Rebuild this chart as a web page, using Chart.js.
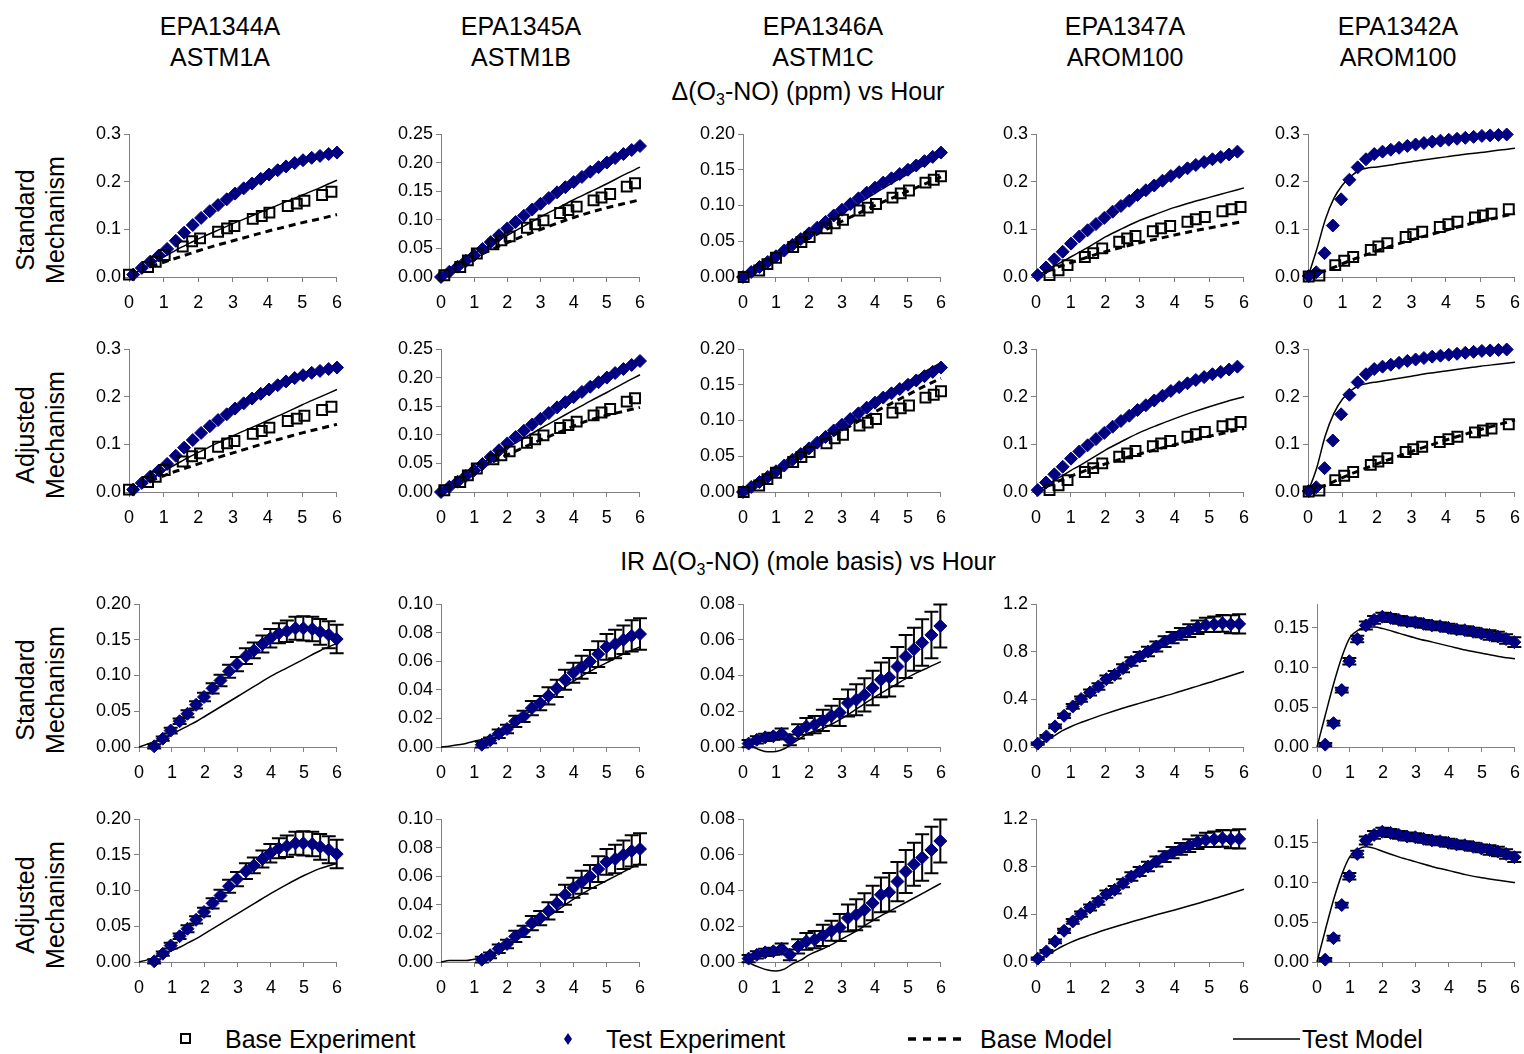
<!DOCTYPE html>
<html lang="en">
<head>
<meta charset="UTF-8" />
<title>Delta(O3-NO) and IR vs Hour</title>
<script src="https://cdn.jsdelivr.net/npm/chart.js"></script>
<style>
  body { margin: 0; background: #fff; }
  #page { position: relative; width: 1524px; height: 1054px; overflow: hidden;
          font-family: "Liberation Sans", Arial, sans-serif; color: #000; }
  .txt { position: absolute; white-space: nowrap; transform: translate(-50%, -50%); font-size: 25px; line-height: 1; }
  .txt sub { font-size: 16px; vertical-align: -5px; line-height: 0; }
  .rowlab { position: absolute; font-size: 25px; line-height: 30px; text-align: center; white-space: nowrap;
            transform: translate(-50%, -50%) rotate(-90deg); }
  .leg { position: absolute; font-size: 25px; line-height: 1; transform: translateY(-50%); white-space: nowrap; }
  canvas { position: absolute; }
  svg { position: absolute; }
</style>
</head>
<body>
<div id="page">
  <div class="txt" style="left:220px;top:26px">EPA1344A</div>
  <div class="txt" style="left:220px;top:57px">ASTM1A</div>
  <div class="txt" style="left:521px;top:26px">EPA1345A</div>
  <div class="txt" style="left:521px;top:57px">ASTM1B</div>
  <div class="txt" style="left:823px;top:26px">EPA1346A</div>
  <div class="txt" style="left:823px;top:57px">ASTM1C</div>
  <div class="txt" style="left:1125px;top:26px">EPA1347A</div>
  <div class="txt" style="left:1125px;top:57px">AROM100</div>
  <div class="txt" style="left:1398px;top:26px">EPA1342A</div>
  <div class="txt" style="left:1398px;top:57px">AROM100</div>

  <div class="txt" style="left:808px;top:91px">&Delta;(O<sub>3</sub>-NO) (ppm) vs Hour</div>
  <div class="txt" style="left:808px;top:561px">IR &Delta;(O<sub>3</sub>-NO) (mole basis) vs Hour</div>

  <div class="rowlab" style="left:40px;top:220px">Standard<br>Mechanism</div>
  <div class="rowlab" style="left:40px;top:435px">Adjusted<br>Mechanism</div>
  <div class="rowlab" style="left:40px;top:690px">Standard<br>Mechanism</div>
  <div class="rowlab" style="left:40px;top:905px">Adjusted<br>Mechanism</div>

  <svg style="left:176px;top:1029px" width="20" height="20"><rect x="5" y="5" width="9" height="9" fill="none" stroke="#000" stroke-width="2"/></svg>
  <div class="leg" style="left:225px;top:1039px">Base Experiment</div>
  <svg style="left:558px;top:1029px" width="20" height="20"><polygon points="10,4 14,10 10,16 6,10" fill="#000080"/></svg>
  <div class="leg" style="left:606px;top:1039px">Test Experiment</div>
  <svg style="left:905px;top:1029px" width="66" height="20"><line x1="3" y1="10" x2="63" y2="10" stroke="#000" stroke-width="3.5" stroke-dasharray="8,7"/></svg>
  <div class="leg" style="left:980px;top:1039px">Base Model</div>
  <svg style="left:1230px;top:1029px" width="72" height="20"><line x1="3" y1="10" x2="70" y2="10" stroke="#000" stroke-width="1.5"/></svg>
  <div class="leg" style="left:1302px;top:1039px">Test Model</div>
</div>

<script>
// ---------- data ----------
const modelHours = [0, 0.25, 0.5, 0.75, 1, 1.25, 1.5, 1.75, 2, 2.5, 3, 3.5, 4, 4.5, 5, 5.5, 6];

// column 1: EPA1344A ASTM1A
const baseExpX1 = [0.0, 0.55, 0.77, 1.03, 1.55, 1.82, 2.05, 2.57, 2.83, 3.04, 3.57, 3.83, 4.05, 4.58, 4.84, 5.06, 5.57, 5.84];
const baseExpY1 = [0.005, 0.021, 0.032, 0.046, 0.064, 0.075, 0.081, 0.095, 0.102, 0.107, 0.122, 0.128, 0.135, 0.149, 0.154, 0.160, 0.172, 0.179];
const testExpX1 = [0.12, 0.37, 0.61, 0.86, 1.10, 1.35, 1.59, 1.84, 2.08, 2.33, 2.57, 2.82, 3.06, 3.31, 3.55, 3.80, 4.04, 4.29, 4.53, 4.78, 5.02, 5.27, 5.51, 5.76, 6.00];
const testExpY1 = [0.005, 0.019, 0.032, 0.045, 0.059, 0.076, 0.093, 0.109, 0.124, 0.138, 0.151, 0.163, 0.175, 0.186, 0.196, 0.206, 0.215, 0.224, 0.232, 0.239, 0.245, 0.250, 0.254, 0.258, 0.261];
const baseModStd1 = [0, 0.009, 0.018, 0.025, 0.031, 0.037, 0.043, 0.049, 0.055, 0.066, 0.076, 0.086, 0.096, 0.105, 0.114, 0.122, 0.131];
const testModStd1 = [0, 0.011, 0.022, 0.032, 0.042, 0.052, 0.062, 0.071, 0.080, 0.096, 0.112, 0.127, 0.142, 0.157, 0.172, 0.187, 0.203];
const baseModAdj1 = [0, 0.009, 0.019, 0.027, 0.034, 0.041, 0.047, 0.053, 0.059, 0.071, 0.082, 0.093, 0.104, 0.114, 0.124, 0.133, 0.142];
const testModAdj1 = [0, 0.011, 0.022, 0.033, 0.044, 0.054, 0.064, 0.074, 0.083, 0.101, 0.118, 0.134, 0.150, 0.166, 0.183, 0.199, 0.215];
const irX1 = [0.46, 0.72, 0.96, 1.23, 1.47, 1.73, 1.97, 2.23, 2.47, 2.73, 2.97, 3.24, 3.48, 3.74, 3.98, 4.24, 4.48, 4.74, 4.98, 5.25, 5.49, 5.75, 5.99];
const irY1 = [0.001, 0.0116, 0.023, 0.036, 0.0465, 0.059, 0.070, 0.082, 0.093, 0.106, 0.116, 0.127, 0.135, 0.144, 0.152, 0.159, 0.162, 0.166, 0.166, 0.165, 0.161, 0.157, 0.151];
const irErr1 = [0.003, 0.003, 0.004, 0.004, 0.005, 0.005, 0.006, 0.007, 0.008, 0.009, 0.010, 0.011, 0.011, 0.012, 0.013, 0.014, 0.015, 0.016, 0.017, 0.017, 0.018, 0.019, 0.020];
const irModStd1 = [0, 0.004, 0.008, 0.013, 0.018, 0.024, 0.030, 0.036, 0.043, 0.057, 0.071, 0.085, 0.099, 0.111, 0.123, 0.135, 0.145];
const irModAdj1 = [0, 0.003, 0.007, 0.011, 0.016, 0.021, 0.027, 0.033, 0.040, 0.054, 0.068, 0.082, 0.096, 0.109, 0.121, 0.131, 0.138];

// column 2: EPA1345A ASTM1B
const baseExpX2 = [0.1, 0.58, 0.81, 1.08, 1.58, 1.82, 2.07, 2.59, 2.84, 3.09, 3.59, 3.84, 4.09, 4.6, 4.84, 5.1, 5.6, 5.85];
const baseExpY2 = [0.003, 0.0175, 0.029, 0.041, 0.057, 0.064, 0.071, 0.086, 0.092, 0.099, 0.112, 0.117, 0.123, 0.134, 0.139, 0.145, 0.158, 0.164];
const testExpX2 = [0, 0.25, 0.5, 0.75, 1, 1.25, 1.5, 1.75, 2, 2.25, 2.5, 2.75, 3, 3.25, 3.5, 3.75, 4, 4.25, 4.5, 4.75, 5, 5.25, 5.5, 5.75, 6];
const testExpY2 = [0, 0.009, 0.018, 0.028, 0.038, 0.049, 0.061, 0.073, 0.085, 0.096, 0.107, 0.118, 0.128, 0.138, 0.148, 0.157, 0.166, 0.175, 0.184, 0.192, 0.200, 0.208, 0.215, 0.222, 0.229];
const baseModStd2 = [0, 0.009, 0.018, 0.026, 0.034, 0.041, 0.047, 0.054, 0.060, 0.072, 0.083, 0.094, 0.104, 0.113, 0.121, 0.128, 0.135];
const testModStd2 = [0, 0.010, 0.020, 0.030, 0.040, 0.049, 0.057, 0.065, 0.073, 0.089, 0.105, 0.120, 0.135, 0.149, 0.163, 0.178, 0.192];
const baseModAdj2 = [0, 0.010, 0.019, 0.028, 0.036, 0.044, 0.051, 0.058, 0.065, 0.078, 0.091, 0.103, 0.115, 0.126, 0.134, 0.141, 0.148];
const testModAdj2 = [0, 0.010, 0.020, 0.030, 0.040, 0.050, 0.059, 0.068, 0.077, 0.094, 0.111, 0.127, 0.143, 0.159, 0.174, 0.190, 0.205];
const irX2 = [1.23, 1.48, 1.74, 1.99, 2.24, 2.49, 2.74, 2.99, 3.24, 3.49, 3.74, 3.99, 4.24, 4.49, 4.74, 4.99, 5.25, 5.5, 5.75, 6.0];
const irY2 = [0.0016, 0.0047, 0.0093, 0.0126, 0.0179, 0.0214, 0.0272, 0.0307, 0.0358, 0.041, 0.047, 0.052, 0.0558, 0.0598, 0.065, 0.070, 0.072, 0.075, 0.0777, 0.079];
const irErr2 = [0.002, 0.002, 0.003, 0.003, 0.004, 0.004, 0.005, 0.005, 0.006, 0.006, 0.007, 0.007, 0.008, 0.008, 0.009, 0.009, 0.010, 0.010, 0.011, 0.011];
const irModStd2 = [0, 0.0005, 0.0015, 0.0025, 0.004, 0.0055, 0.0075, 0.0105, 0.0140, 0.022, 0.030, 0.038, 0.046, 0.053, 0.059, 0.065, 0.070];
const irModAdj2 = [0, 0.001, 0.001, 0.001, 0.002, 0.003, 0.005, 0.008, 0.011, 0.019, 0.028, 0.036, 0.044, 0.051, 0.057, 0.063, 0.069];

// column 3: EPA1346A ASTM1C
const baseExpX3 = [0.02, 0.49, 0.74, 1.0, 1.52, 1.77, 2.02, 2.53, 2.78, 3.03, 3.53, 3.78, 4.03, 4.53, 4.78, 5.03, 5.53, 5.78, 6.0];
const baseExpY3 = [0.0, 0.009, 0.018, 0.027, 0.042, 0.049, 0.056, 0.068, 0.075, 0.080, 0.093, 0.097, 0.102, 0.111, 0.117, 0.121, 0.132, 0.136, 0.141];
const testExpX3 = [0, 0.25, 0.5, 0.75, 1, 1.25, 1.5, 1.75, 2, 2.25, 2.5, 2.75, 3, 3.25, 3.5, 3.75, 4, 4.25, 4.5, 4.75, 5, 5.25, 5.5, 5.75, 6];
const testExpY3 = [0, 0.007, 0.014, 0.021, 0.029, 0.037, 0.045, 0.053, 0.061, 0.069, 0.077, 0.086, 0.094, 0.102, 0.110, 0.118, 0.125, 0.132, 0.138, 0.144, 0.150, 0.156, 0.162, 0.168, 0.174];
const baseModStd3 = [0, 0.007, 0.014, 0.021, 0.028, 0.035, 0.041, 0.048, 0.054, 0.066, 0.078, 0.089, 0.100, 0.110, 0.120, 0.130, 0.140];
const testModStd3 = [0, 0.007, 0.015, 0.022, 0.030, 0.037, 0.045, 0.052, 0.060, 0.075, 0.089, 0.103, 0.117, 0.131, 0.144, 0.157, 0.170];
const baseModAdj3 = [0, 0.008, 0.015, 0.023, 0.030, 0.037, 0.045, 0.052, 0.059, 0.073, 0.086, 0.099, 0.112, 0.124, 0.136, 0.148, 0.159];
const testModAdj3 = [0, 0.008, 0.016, 0.024, 0.032, 0.040, 0.048, 0.056, 0.064, 0.080, 0.095, 0.110, 0.125, 0.140, 0.154, 0.168, 0.181];
const irX3 = [0.17, 0.42, 0.67, 0.92, 1.17, 1.42, 1.67, 1.92, 2.17, 2.42, 2.68, 2.93, 3.18, 3.43, 3.68, 3.93, 4.18, 4.43, 4.68, 4.93, 5.18, 5.43, 5.71, 5.98];
const irY3 = [0.0019, 0.004, 0.0054, 0.006, 0.0074, 0.004, 0.0087, 0.0115, 0.0125, 0.0149, 0.0175, 0.0193, 0.0246, 0.0264, 0.0292, 0.033, 0.0376, 0.039, 0.045, 0.0506, 0.0547, 0.0584, 0.0627, 0.0677];
const irErr3 = [0.002, 0.002, 0.002, 0.002, 0.003, 0.003, 0.004, 0.0047, 0.0048, 0.006, 0.0056, 0.0075, 0.0075, 0.0087, 0.0093, 0.0097, 0.0097, 0.0108, 0.011, 0.012, 0.012, 0.013, 0.013, 0.012];
const irModStd3 = [0.002, 0.0005, -0.0015, -0.0027, -0.0025, -0.001, 0.002, 0.005, 0.0078, 0.011, 0.016, 0.022, 0.028, 0.0335, 0.039, 0.0435, 0.0478];
const irModAdj3 = [0.002, -0.001, -0.003, -0.0045, -0.005, -0.004, -0.001, 0.001, 0.004, 0.008, 0.013, 0.018, 0.024, 0.029, 0.034, 0.039, 0.044];

// column 4: EPA1347A AROM100
const baseExpX4 = [0.39, 0.65, 0.91, 1.41, 1.65, 1.91, 2.4, 2.63, 2.87, 3.37, 3.61, 3.87, 4.37, 4.61, 4.87, 5.38, 5.64, 5.9];
const baseExpY4 = [0.004, 0.014, 0.025, 0.042, 0.050, 0.060, 0.074, 0.081, 0.086, 0.096, 0.102, 0.107, 0.116, 0.121, 0.126, 0.138, 0.142, 0.147];
const testExpX4 = [0.05, 0.29, 0.53, 0.77, 1.01, 1.25, 1.49, 1.73, 1.97, 2.21, 2.45, 2.69, 2.93, 3.17, 3.41, 3.65, 3.89, 4.13, 4.37, 4.61, 4.85, 5.09, 5.33, 5.57, 5.81];
const testExpY4 = [0.004, 0.020, 0.037, 0.053, 0.070, 0.085, 0.098, 0.111, 0.124, 0.137, 0.149, 0.160, 0.172, 0.182, 0.192, 0.202, 0.212, 0.220, 0.228, 0.235, 0.241, 0.247, 0.252, 0.257, 0.263];
const baseModStd4 = [0, 0.009, 0.017, 0.024, 0.030, 0.036, 0.042, 0.048, 0.053, 0.063, 0.072, 0.080, 0.088, 0.096, 0.103, 0.110, 0.117];
const testModStd4 = [0, 0.011, 0.022, 0.032, 0.042, 0.052, 0.062, 0.073, 0.084, 0.102, 0.119, 0.133, 0.146, 0.157, 0.167, 0.177, 0.187];
const baseModAdj4 = [0, 0.009, 0.018, 0.026, 0.033, 0.040, 0.047, 0.053, 0.059, 0.070, 0.080, 0.090, 0.099, 0.108, 0.117, 0.125, 0.133];
const testModAdj4 = [0, 0.012, 0.023, 0.034, 0.045, 0.055, 0.066, 0.077, 0.088, 0.107, 0.125, 0.140, 0.154, 0.167, 0.179, 0.190, 0.200];
const irX4 = [0.05, 0.3, 0.55, 0.81, 1.06, 1.3, 1.56, 1.8, 2.03, 2.27, 2.51, 2.75, 2.99, 3.23, 3.47, 3.71, 3.94, 4.18, 4.42, 4.66, 4.9, 5.14, 5.38, 5.62, 5.86];
const irY4 = [0.028, 0.089, 0.173, 0.262, 0.34, 0.402, 0.458, 0.508, 0.569, 0.606, 0.661, 0.717, 0.759, 0.801, 0.843, 0.885, 0.918, 0.949, 0.977, 1.005, 1.024, 1.03, 1.038, 1.03, 1.033];
const irErr4 = [0.01, 0.012, 0.015, 0.018, 0.02, 0.022, 0.025, 0.027, 0.03, 0.032, 0.034, 0.036, 0.038, 0.04, 0.042, 0.045, 0.048, 0.05, 0.053, 0.056, 0.06, 0.065, 0.07, 0.075, 0.08];
const irModStd4 = [0.015, 0.05, 0.09, 0.135, 0.17, 0.2, 0.226, 0.253, 0.278, 0.325, 0.368, 0.41, 0.452, 0.497, 0.541, 0.588, 0.634];
const irModAdj4 = [0.015, 0.05, 0.088, 0.13, 0.165, 0.195, 0.22, 0.246, 0.27, 0.315, 0.357, 0.398, 0.437, 0.478, 0.52, 0.565, 0.61];

// column 5: EPA1342A AROM100
const baseExpX5 = [0.02, 0.33, 0.79, 1.05, 1.31, 1.82, 2.04, 2.3, 2.83, 3.05, 3.31, 3.82, 4.07, 4.33, 4.84, 5.07, 5.32, 5.82];
const baseExpY5 = [0.001, 0.003, 0.025, 0.034, 0.042, 0.057, 0.064, 0.071, 0.084, 0.090, 0.095, 0.105, 0.111, 0.116, 0.125, 0.129, 0.133, 0.142];
const testExpX5 = [0.02, 0.24, 0.48, 0.72, 0.96, 1.2, 1.44, 1.68, 1.92, 2.16, 2.4, 2.64, 2.88, 3.12, 3.36, 3.6, 3.84, 4.08, 4.32, 4.56, 4.8, 5.04, 5.28, 5.52, 5.76];
const testExpY5 = [0.002, 0.010, 0.050, 0.108, 0.163, 0.204, 0.230, 0.247, 0.258, 0.263, 0.267, 0.271, 0.275, 0.278, 0.281, 0.284, 0.286, 0.288, 0.290, 0.292, 0.294, 0.296, 0.297, 0.298, 0.299];
const baseModStd5 = [0, 0.006, 0.013, 0.020, 0.028, 0.035, 0.042, 0.048, 0.055, 0.067, 0.078, 0.088, 0.098, 0.108, 0.117, 0.125, 0.133];
const testModStd5 = [0, 0.057, 0.120, 0.165, 0.193, 0.212, 0.224, 0.229, 0.231, 0.236, 0.242, 0.247, 0.252, 0.257, 0.261, 0.266, 0.270];
const baseModAdj5 = [0, 0.007, 0.014, 0.022, 0.030, 0.038, 0.045, 0.052, 0.059, 0.072, 0.085, 0.097, 0.109, 0.120, 0.131, 0.141, 0.151];
const testModAdj5 = [0, 0.050, 0.118, 0.165, 0.195, 0.213, 0.224, 0.228, 0.231, 0.237, 0.243, 0.249, 0.254, 0.259, 0.264, 0.268, 0.272];
const irX5 = [0.25, 0.5, 0.75, 0.98, 1.22, 1.48, 1.73, 1.98, 2.23, 2.48, 2.73, 2.98, 3.23, 3.48, 3.73, 3.98, 4.23, 4.48, 4.73, 4.98, 5.23, 5.48, 5.73, 5.98];
const irY5 = [0.003, 0.030, 0.0717, 0.108, 0.136, 0.153, 0.160, 0.164, 0.1625, 0.160, 0.158, 0.157, 0.155, 0.153, 0.152, 0.150, 0.148, 0.147, 0.145, 0.143, 0.141, 0.139, 0.136, 0.132];
const irErr5 = [0.002, 0.003, 0.003, 0.004, 0.004, 0.005, 0.005, 0.005, 0.005, 0.005, 0.005, 0.005, 0.005, 0.005, 0.005, 0.005, 0.005, 0.005, 0.005, 0.005, 0.006, 0.006, 0.006, 0.006];
const irModStd5 = [0, 0.040, 0.079, 0.113, 0.138, 0.147, 0.151, 0.151, 0.149, 0.143, 0.137, 0.132, 0.127, 0.122, 0.118, 0.114, 0.111];
const irModAdj5 = [0, 0.040, 0.078, 0.110, 0.133, 0.142, 0.145, 0.143, 0.139, 0.132, 0.126, 0.120, 0.115, 0.110, 0.106, 0.103, 0.100];

// y axis ticks
const ppmTicks = [
  [0, 0.1, 0.2, 0.3],
  [0, 0.05, 0.10, 0.15, 0.20, 0.25],
  [0, 0.05, 0.10, 0.15, 0.20],
  [0, 0.1, 0.2, 0.3],
  [0, 0.1, 0.2, 0.3]
];
const ppmDecimals = [1, 2, 2, 1, 1];
const irTicks = [
  [0, 0.05, 0.10, 0.15, 0.20],
  [0, 0.02, 0.04, 0.06, 0.08, 0.10],
  [0, 0.02, 0.04, 0.06, 0.08],
  [0, 0.4, 0.8, 1.2],
  [0, 0.05, 0.10, 0.15]
];
const irMax = [0.20, 0.10, 0.08, 1.2, 0.18];
const irDecimals = [2, 2, 2, 1, 2];

const baseExpX = [baseExpX1, baseExpX2, baseExpX3, baseExpX4, baseExpX5];
const baseExpY = [baseExpY1, baseExpY2, baseExpY3, baseExpY4, baseExpY5];
const testExpX = [testExpX1, testExpX2, testExpX3, testExpX4, testExpX5];
const testExpY = [testExpY1, testExpY2, testExpY3, testExpY4, testExpY5];
const baseModStd = [baseModStd1, baseModStd2, baseModStd3, baseModStd4, baseModStd5];
const testModStd = [testModStd1, testModStd2, testModStd3, testModStd4, testModStd5];
const baseModAdj = [baseModAdj1, baseModAdj2, baseModAdj3, baseModAdj4, baseModAdj5];
const testModAdj = [testModAdj1, testModAdj2, testModAdj3, testModAdj4, testModAdj5];
const irX = [irX1, irX2, irX3, irX4, irX5];
const irY = [irY1, irY2, irY3, irY4, irY5];
const irErr = [irErr1, irErr2, irErr3, irErr4, irErr5];
const irModStd = [irModStd1, irModStd2, irModStd3, irModStd4, irModStd5];
const irModAdj = [irModAdj1, irModAdj2, irModAdj3, irModAdj4, irModAdj5];

// ---------- layout ----------
const plotLeftPpm = [129, 441, 743, 1036, 1308];
const plotLeftIr = [139, 441, 743, 1036, 1317];
const plotRight = [338, 641, 942, 1245, 1516];
const plotTop = [134, 349, 604, 819];
const PLOT_H = 143;
const AXIS_W = 60, PAD = 14, XAXIS_H = 40;
const FONT = { family: '"Liberation Sans", Arial, sans-serif', size: 18 };

const page = document.getElementById('page');

function pts(xs, ys) {
  return xs.map((x, i) => ({ x: x, y: ys[i] }));
}

const errorBarPlugin = {
  id: 'errorBars',
  beforeDatasetsDraw(chart) {
    const ctx = chart.ctx, xs = chart.scales.x, ys = chart.scales.y;
    chart.data.datasets.forEach(ds => {
      if (!ds.errors) return;
      ctx.save();
      ctx.strokeStyle = '#000';
      ctx.lineWidth = 2;
      ds.data.forEach((p, i) => {
        const e = ds.errors[i];
        const px = xs.getPixelForValue(p.x);
        const top = ys.getPixelForValue(p.y + e);
        const bot = ys.getPixelForValue(p.y - e);
        ctx.beginPath();
        ctx.moveTo(px, top); ctx.lineTo(px, bot);
        ctx.moveTo(px - 7, top); ctx.lineTo(px + 7, top);
        ctx.moveTo(px - 7, bot); ctx.lineTo(px + 7, bot);
        ctx.stroke();
      });
      ctx.restore();
    });
  }
};

function baseExpSet(c) {
  return { label: 'Base Experiment', data: pts(baseExpX[c], baseExpY[c]), showLine: false, clip: false,
           pointStyle: 'rect', pointRadius: 7, pointBorderWidth: 2,
           borderColor: '#000', backgroundColor: 'rgba(0,0,0,0)' };
}
function testExpSet(xs, ys, errs) {
  return { label: 'Test Experiment', data: pts(xs, ys), showLine: false, clip: false, errors: errs,
           pointStyle: 'rectRot', pointRadius: 6.5, pointBorderWidth: 1,
           borderColor: '#000080', backgroundColor: '#000080' };
}
function modelSet(label, ys, dashed) {
  return { label: label, data: pts(modelHours, ys), showLine: true, clip: false,
           borderColor: '#000', borderWidth: dashed ? 3 : 1.5, borderDash: dashed ? [7, 5] : [],
           pointRadius: 0, fill: false, cubicInterpolationMode: 'monotone' };
}

function makePanel(row, col, datasets, ticks, yMax, dec) {
  const L = row < 2 ? plotLeftPpm[col] : plotLeftIr[col];
  const R = plotRight[col], T = plotTop[row];
  const cv = document.createElement('canvas');
  cv.width = R - L + AXIS_W + PAD;
  cv.height = PLOT_H + PAD + XAXIS_H;
  cv.style.left = (L - AXIS_W) + 'px';
  cv.style.top = (T - PAD) + 'px';
  page.appendChild(cv);

  const axisGrid = { drawOnChartArea: false, drawTicks: true, tickLength: 5, color: '#808080', lineWidth: 1 };
  new Chart(cv, {
    type: 'scatter',
    data: { datasets: datasets },
    options: {
      responsive: false,
      animation: false,
      layout: { autoPadding: false, padding: { top: PAD, right: PAD, left: 0, bottom: 0 } },
      plugins: { legend: { display: false }, tooltip: { enabled: false } },
      scales: {
        x: {
          type: 'linear', min: 0, max: 6,
          ticks: { stepSize: 1, color: '#000', font: FONT, padding: 10, maxRotation: 0 },
          grid: axisGrid,
          border: { display: true, color: '#808080', width: 1 },
          afterFit(s) { s.height = XAXIS_H; }
        },
        y: {
          type: 'linear', min: 0, max: yMax,
          afterBuildTicks(s) { s.ticks = ticks.map(v => ({ value: v })); },
          ticks: { color: '#000', font: FONT, padding: 3, callback: v => Number(v).toFixed(dec) },
          grid: axisGrid,
          border: { display: true, color: '#808080', width: 1 },
          afterFit(s) { s.width = AXIS_W; }
        }
      }
    },
    plugins: [errorBarPlugin]
  });
}

for (let c = 0; c < 5; c++) {
  const pt = ppmTicks[c], pMax = pt[pt.length - 1];
  makePanel(0, c, [
    baseExpSet(c),
    testExpSet(testExpX[c], testExpY[c], null),
    modelSet('Base Model', baseModStd[c], true),
    modelSet('Test Model', testModStd[c], false)
  ], pt, pMax, ppmDecimals[c]);
  makePanel(1, c, [
    baseExpSet(c),
    testExpSet(testExpX[c], testExpY[c], null),
    modelSet('Base Model', baseModAdj[c], true),
    modelSet('Test Model', testModAdj[c], false)
  ], pt, pMax, ppmDecimals[c]);
  makePanel(2, c, [
    testExpSet(irX[c], irY[c], irErr[c]),
    modelSet('Test Model', irModStd[c], false)
  ], irTicks[c], irMax[c], irDecimals[c]);
  makePanel(3, c, [
    testExpSet(irX[c], irY[c], irErr[c]),
    modelSet('Test Model', irModAdj[c], false)
  ], irTicks[c], irMax[c], irDecimals[c]);
}
</script>
</body>
</html>
